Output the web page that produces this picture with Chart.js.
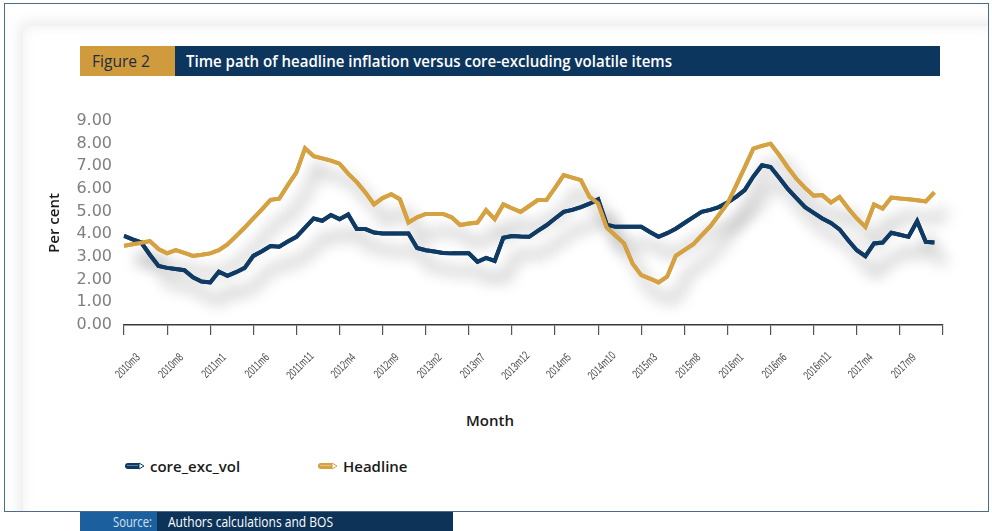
<!DOCTYPE html>
<html>
<head>
<meta charset="utf-8">
<script src="https://cdn.jsdelivr.net/npm/chart.js@4.4.0/dist/chart.umd.min.js"></script>
<style>
  html, body { margin:0; padding:0; background:#ffffff; width:992px; height:531px; overflow:hidden; }
  #frame { position:absolute; left:4px; top:3px; width:985px; height:509px; border:1px solid #4d6a89; box-sizing:border-box; overflow:hidden; background:#fff; }
  #glow { position:absolute; left:18px; top:22px; width:1100px; height:700px; background:#fff; box-shadow:0 0 14px 3px rgba(0,0,0,0.09), inset 0 0 12px 2px rgba(0,0,0,0.05); }
  .fit { display:inline-block; white-space:nowrap; transform-origin:left center; font-family:"Open Sans",sans-serif; }
  #figbox { position:absolute; left:80px; top:46px; width:95px; height:30px; background:#d09b3d; color:#1c2c43; font-size:16px; line-height:30px; padding-left:12px; box-sizing:border-box; }
  #titlebox { position:absolute; left:175px; top:46px; width:765px; height:30px; background:#0d365e; color:#ffffff; font-size:16px; font-weight:600; line-height:30px; padding-left:11px; box-sizing:border-box; }
  #month { position:absolute; left:440px; top:410px; width:100px; text-align:center; font-family:"Open Sans",sans-serif; font-weight:600; font-size:15px; color:#1a1a1a; }
  #legend { position:absolute; left:125px; top:455px; height:22px; font-family:"Open Sans",sans-serif; font-weight:600; font-size:15px; color:#1a1a1a; }
  .litem { position:absolute; top:0; white-space:nowrap; line-height:22px; }
  .litem svg { position:absolute; left:0; top:7px; }
  .litem span { position:absolute; left:25px; top:0; }
  #srcA { position:absolute; left:80px; top:512px; width:77px; height:19px; background:#1c5f9e; color:#d5e3f1; font-size:14px; line-height:19px; box-sizing:border-box; }
  #srcA .fit { position:absolute; left:33px; top:0; }
  #srcB { position:absolute; left:157px; top:512px; width:296px; height:19px; background:#0d3359; color:#ffffff; font-size:14px; line-height:19px; padding-left:11px; box-sizing:border-box; }
  #c { position:absolute; left:0; top:0; }
</style>
</head>
<body>
<div id="frame"><div id="glow"></div></div>
<div id="figbox"><span class="fit" data-w="58">Figure 2</span></div>
<div id="titlebox"><span class="fit" data-w="486">Time path of headline inflation versus core-excluding volatile items</span></div>
<div id="month">Month</div>
<div id="legend"></div>
<div id="srcA"><span class="fit" data-w="39">Source:</span></div>
<div id="srcB"><span class="fit" data-w="165">Authors calculations and BOS</span></div>
<canvas id="c" width="992" height="531"></canvas>
<script>
// ---- data ----
const months = [
  "2010m3","2010m4","2010m5","2010m6","2010m7","2010m8","2010m9","2010m10","2010m11","2010m12",
  "2011m1","2011m2","2011m3","2011m4","2011m5","2011m6","2011m7","2011m8","2011m9","2011m10","2011m11","2011m12",
  "2012m1","2012m2","2012m3","2012m4","2012m5","2012m6","2012m7","2012m8","2012m9","2012m10","2012m11","2012m12",
  "2013m1","2013m2","2013m3","2013m4","2013m5","2013m6","2013m7","2013m8","2013m9","2013m10","2013m11","2013m12",
  "2014m1","2014m2","2014m3","2014m4","2014m5","2014m6","2014m7","2014m8","2014m9","2014m10","2014m11","2014m12",
  "2015m1","2015m2","2015m3","2015m4","2015m5","2015m6","2015m7","2015m8","2015m9","2015m10","2015m11","2015m12",
  "2016m1","2016m2","2016m3","2016m4","2016m5","2016m6","2016m7","2016m8","2016m9","2016m10","2016m11","2016m12",
  "2017m1","2017m2","2017m3","2017m4","2017m5","2017m6","2017m7","2017m8","2017m9","2017m10","2017m11","2017m12",
  "2018m1"
];
const tickLabels = ["2010m3","2010m8","2011m1","2011m6","2011m11","2012m4","2012m9","2013m2","2013m7","2013m12",
  "2014m5","2014m10","2015m3","2015m8","2016m1","2016m6","2016m11","2017m4","2017m9"];
const coreExcVol = [
  3.93,3.78,3.64,3.10,2.60,2.52,2.47,2.42,2.10,1.92,
  1.88,2.35,2.17,2.33,2.52,3.05,3.25,3.48,3.45,3.68,
  3.89,4.30,4.70,4.60,4.85,4.67,4.88,4.23,4.23,4.08,
  4.04,4.04,4.04,4.04,3.40,3.30,3.24,3.18,3.16,3.16,
  3.16,2.79,2.96,2.83,3.85,3.93,3.90,3.89,4.15,4.40,
  4.70,4.99,5.08,5.20,5.35,5.54,4.43,4.33,4.33,4.33,
  4.33,4.10,3.89,4.05,4.25,4.50,4.75,4.99,5.08,5.20,
  5.40,5.65,5.95,6.55,7.05,6.97,6.50,6.00,5.60,5.20,
  4.95,4.70,4.50,4.22,3.74,3.30,3.04,3.60,3.64,4.07,
  3.98,3.89,4.58,3.67,3.64
];
const headline = [
  3.49,3.56,3.63,3.70,3.35,3.16,3.30,3.18,3.05,3.10,
  3.16,3.30,3.55,3.92,4.30,4.70,5.10,5.52,5.57,6.17,
  6.73,7.80,7.45,7.35,7.25,7.12,6.68,6.30,5.85,5.32,
  5.60,5.77,5.55,4.52,4.75,4.90,4.90,4.90,4.75,4.41,
  4.48,4.52,5.07,4.67,5.32,5.15,4.99,5.25,5.51,5.51,
  6.05,6.61,6.50,6.39,5.65,5.36,4.30,3.95,3.60,2.70,
  2.20,2.05,1.88,2.13,3.05,3.30,3.55,3.95,4.35,4.85,
  5.36,6.15,6.95,7.78,7.90,8.00,7.50,6.95,6.45,6.05,
  5.70,5.73,5.40,5.65,5.15,4.70,4.33,5.32,5.14,5.62,
  5.58,5.55,5.50,5.45,5.85
];
const seriesNames = ["core_exc_vol", "Headline"];
const seriesColors = ["#0f3a63", "#d5a141"];

// ---- fit condensed HTML texts ----
document.querySelectorAll('.fit').forEach(el => {
  const w = el.getBoundingClientRect().width;
  el.style.transform = 'scaleX(' + (+el.dataset.w / w) + ')';
});

// ---- chart ----
const toPoints = arr => arr.map((v, i) => ({ x: i, y: v }));

const lineShadow = {
  id: 'lineShadow',
  beforeDatasetsDraw(chart) {
    const ctx = chart.ctx;
    ctx.save();
    ctx.shadowColor = 'rgba(0,0,0,0.40)';
    ctx.shadowBlur = 15;
    ctx.shadowOffsetX = 12;
    ctx.shadowOffsetY = 18;
    chart.getSortedVisibleDatasetMetas().forEach(m => m.dataset.draw(ctx, chart.chartArea));
    ctx.restore();
  }
};

// condensed, rotated month labels placed at the x scale's tick pixels
const monthLabels = {
  id: 'monthLabels',
  afterDraw(chart) {
    const sx = chart.scales.x, ctx = chart.ctx;
    ctx.save();
    ctx.fillStyle = '#4a4a4a';
    ctx.font = '12px "Liberation Sans", Arial, sans-serif';
    ctx.textAlign = 'center';
    ctx.textBaseline = 'middle';
    tickLabels.forEach((lab, k) => {
      const px = sx.getPixelForValue(k * 5);
      ctx.save();
      ctx.translate(px + 4, sx.top + 41);
      ctx.rotate(-Math.PI / 4);
      ctx.scale(0.68, 1);
      ctx.fillText(lab, 0, 0);
      ctx.restore();
    });
    ctx.restore();
  }
};

new Chart(document.getElementById('c'), {
  type: 'line',
  data: {
    datasets: [
      { label: seriesNames[0], data: toPoints(coreExcVol), borderColor: seriesColors[0], backgroundColor: seriesColors[0],
        borderWidth: 4, pointRadius: 0, tension: 0, order: 1 },
      { label: seriesNames[1], data: toPoints(headline), borderColor: seriesColors[1], backgroundColor: seriesColors[1],
        borderWidth: 4, pointRadius: 0, tension: 0, order: 0 }
    ]
  },
  options: {
    responsive: false,
    animation: false,
    layout: { padding: { left: 40, right: 49, top: 121, bottom: 131 } },
    plugins: { legend: { display: false }, tooltip: { enabled: false } },
    scales: {
      x: {
        type: 'linear', min: 0, max: 95,
        afterFit(s) { s.height = 75; },
        grid: { drawOnChartArea: false, drawTicks: true, tickLength: 10, color: '#555555', lineWidth: 1.2 },
        border: { display: true, color: '#3a3a3a', width: 1.5 },
        ticks: { stepSize: 5, autoSkip: false, display: false }
      },
      y: {
        min: 0, max: 9,
        afterFit(s) { s.width = 84; },
        grid: { display: false, drawTicks: false },
        border: { display: false },
        ticks: { stepSize: 1, padding: 12, color: '#7f7f7f', font: { family: '"DejaVu Sans",sans-serif', size: 16 },
          callback: v => Number(v).toFixed(2) },
        title: { display: true, text: 'Per cent', color: '#1a1a1a', padding: { top: 6, bottom: 0 },
          font: { family: '"Open Sans",sans-serif', size: 15, weight: '600' } }
      }
    }
  },
  plugins: [lineShadow, monthLabels]
});

// ---- legend (HTML, from the series names/colours) ----
const legendEl = document.getElementById('legend');
const legendX = [0, 193];
seriesNames.forEach((name, i) => {
  const d = document.createElement('div');
  d.className = 'litem';
  d.style.left = legendX[i] + 'px';
  const col = seriesColors[i];
  d.innerHTML = '<svg width="20" height="8" viewBox="0 0 20 8">' +
    '<path d="M3 1 H14 V7 H3 A3 3 0 0 1 3 1 Z" fill="' + col + '"/>' +
    '<path d="M14 1 L19 4 L14 7 Z" fill="#ffffff" stroke="' + col + '" stroke-width="1"/>' +
    '<rect x="2" y="3" width="11" height="1" fill="rgba(255,255,255,0.35)"/></svg>' +
    '<span>' + name + '</span>';
  legendEl.appendChild(d);
});
</script>
</body>
</html>
